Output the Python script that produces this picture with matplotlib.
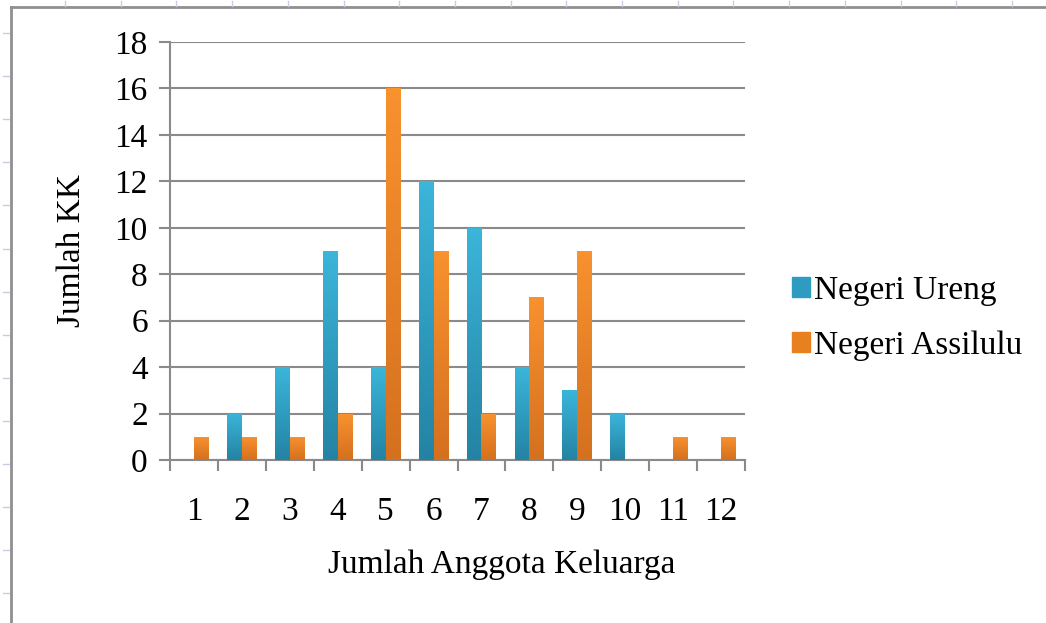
import numpy as np
import matplotlib
matplotlib.use('Agg')
import matplotlib.pyplot as plt
import matplotlib.patches as mpatches
from matplotlib.colors import LinearSegmentedColormap

# data
categories = ['1', '2', '3', '4', '5', '6', '7', '8', '9', '10', '11', '12']
ureng = [0, 2, 4, 9, 4, 12, 10, 4, 3, 2, 0, 0]
assilulu = [1, 1, 1, 2, 16, 9, 2, 7, 9, 0, 1, 1]
series_names = ['Negeri Ureng', 'Negeri Assilulu']

plt.rcParams['font.family'] = ['Liberation Serif', 'DejaVu Serif']

cmap_blue = LinearSegmentedColormap.from_list('b', ['#2483a3', '#3bb5da'])
cmap_orange = LinearSegmentedColormap.from_list('o', ['#d5701f', '#f8922f'])

fig = plt.figure(figsize=(10.46, 6.23), dpi=100)
ax = fig.add_axes([170 / 1046, 1 - 460 / 623, 575 / 1046, 418 / 623])

x = np.arange(len(categories))
bar_w = 0.31
grad = np.linspace(0, 1, 64).reshape(-1, 1)

def gradient_bars(xs, vals, cmap, face):
    bars = ax.bar(xs, vals, width=bar_w, color=face, zorder=3, linewidth=0)
    for b in bars:
        h = b.get_height()
        if h <= 0:
            continue
        x0 = b.get_x()
        im = ax.imshow(grad, extent=[x0, x0 + b.get_width(), 0, h], origin='lower',
                       aspect='auto', cmap=cmap, zorder=4)
        im.set_clip_path(b)
    return bars

gradient_bars(x - bar_w / 2, ureng, cmap_blue, '#2e9cc0')
gradient_bars(x + bar_w / 2, assilulu, cmap_orange, '#e8801f')

ax.set_xlim(-0.5, len(categories) - 0.5)
ax.set_ylim(0, 18)
ax.set_yticks(range(0, 19, 2))
ax.set_xticks(x)
ax.set_xticklabels(categories)
ax.set_xticks(np.arange(-0.5, len(categories), 1), minor=True)
ax.grid(axis='y', color='#8a8a8a', linewidth=1.5, zorder=1)
ax.set_axisbelow(True)

for s in ['top', 'right']:
    ax.spines[s].set_visible(False)
for s in ['left', 'bottom']:
    ax.spines[s].set_color('#8a8a8a')
    ax.spines[s].set_linewidth(1.5)

ax.tick_params(axis='y', which='major', length=8, width=1.5, color='#8a8a8a',
               labelsize=24, pad=8)
ax.tick_params(axis='x', which='major', length=0, labelsize=24, pad=26)
ax.tick_params(axis='x', which='minor', length=8, width=1.5, color='#8a8a8a')

ax.set_xlabel('Jumlah Anggota Keluarga', fontsize=24, labelpad=14)
ax.xaxis.set_label_coords(0.577, -0.215)
ax.set_ylabel('Jumlah KK', fontsize=24, labelpad=20)

handles = [mpatches.Patch(color='#2e9cc0', label=series_names[0]),
           mpatches.Patch(color='#e8801f', label=series_names[1])]
fig.legend(handles=handles, loc='center left', bbox_to_anchor=(762 / 1046, 1 - 318 / 623),
           frameon=False, fontsize=24, handlelength=0.55, handleheight=0.55,
           handletextpad=0.1, labelspacing=0.75)

# sheet frame behind the chart
fig.add_artist(plt.Line2D([11 / 1046, 11 / 1046], [0, 1 - 7 / 623], color='#8f8f8f', lw=2))
fig.add_artist(plt.Line2D([11 / 1046, 1], [1 - 7 / 623, 1 - 7 / 623], color='#8f8f8f', lw=2))
for px in np.arange(65, 1046, 55.7):
    fig.add_artist(plt.Line2D([px / 1046, px / 1046], [1 - 1 / 623, 1 - 6 / 623], color='#c5cde0', lw=1))
for py in np.arange(33, 623, 43.1):
    fig.add_artist(plt.Line2D([3 / 1046, 9 / 1046], [1 - py / 623, 1 - py / 623], color='#c5cde0', lw=1))

fig.savefig('out.png', dpi=100)
